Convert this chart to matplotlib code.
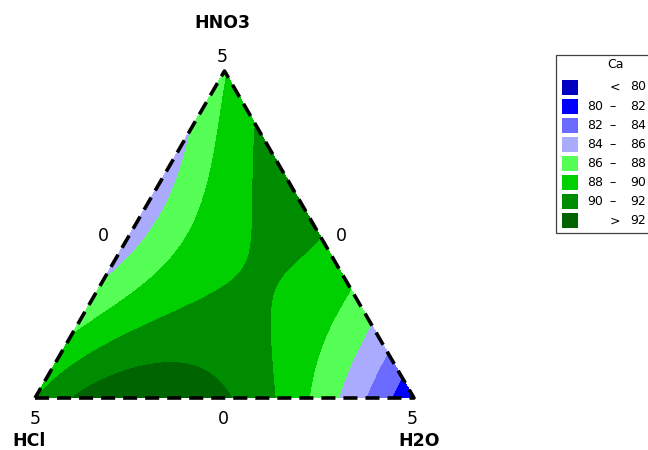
import numpy as np
import matplotlib
matplotlib.use("Agg")
import matplotlib.pyplot as plt
import matplotlib.tri as mtri
from matplotlib.patches import Rectangle

# Ca response readings over the HNO3 / HCl / H2O mixture space
# (HNO3 fraction, H2O fraction; HCl makes up the rest)
hno3 = [1.0, 0.0, 0.0,
        0.0, 0.0, 0.0, 0.0, 0.0, 0.0, 0.0, 0.0,
        0.813, 0.462, 0.324, 0.223, 0.147, 0.064,
        0.03, 0.175, 0.352, 0.82,
        0.055, 0.116, 0.168, 0.217, 0.260, 0.321, 0.401, 0.514, 0.606, 0.697,
        0.239, 0.300, 0.361, 0.432, 0.524, 0.626, 0.779, 0.881,
        0.401, 0.474, 0.575, 0.677,
        0.055, 0.086, 0.101, 0.095, 0.064,
        0.422, 0.370, 0.269, 0.116,
        0.239, 0.116, 0.138, 0.086]
h2o = [0.0, 0.0, 1.0,
       0.02, 0.092, 0.512, 0.641, 0.734, 0.805, 0.868, 0.923,
       0.187, 0.538, 0.676, 0.777, 0.853, 0.936,
       0.0, 0.0, 0.0, 0.0,
       0.012, 0.042, 0.106, 0.176, 0.234, 0.293, 0.341, 0.316, 0.272, 0.227,
       0.034, 0.090, 0.125, 0.143, 0.152, 0.138, 0.094, 0.056,
       0.024, 0.040, 0.042, 0.035,
       0.163, 0.234, 0.306, 0.388, 0.456,
       0.480, 0.480, 0.507, 0.580,
       0.659, 0.686, 0.770, 0.846]
ca = [88.0, 89.9, 80.8,
      90, 92, 92, 90, 88, 86, 84, 82,
      90, 90, 88, 86, 84, 82,
      90, 88, 86, 86,
      90, 90, 90, 90, 90, 90, 90, 90, 90, 90,
      88, 88, 88, 88, 88, 88, 88, 88,
      86, 86, 86, 86,
      92, 92, 92, 92, 92,
      90, 90, 90, 90,
      88, 88, 86, 84]

band_edges = [80, 82, 84, 86, 88, 90, 92]
band_colors = ["#0000c0", "#0000ff", "#6b6bff", "#aaaaff",
               "#55ff55", "#00d000", "#008c00", "#006400"]
component_names = ["HNO3", "HCl", "H2O"]


def model_terms(a, b, c):
    return np.column_stack([a, b, c, a * b, a * c, b * c, a * b * c,
                            a * b * (a - b), a * c * (a - c), b * c * (b - c),
                            a * a * b * c, a * b * b * c, a * b * c * c,
                            a * b * (a - b) ** 2])


A = np.asarray(hno3, float)
C = np.asarray(h2o, float)
B = 1.0 - A - C
coef, *_ = np.linalg.lstsq(model_terms(A, B, C), np.asarray(ca, float), rcond=None)

# barycentric grid over the simplex
n = 160
ii, jj = np.meshgrid(np.arange(n + 1), np.arange(n + 1))
keep = ii + jj <= n
ga = (ii[keep] / n).astype(float)
gc = (jj[keep] / n).astype(float)
gb = 1.0 - ga - gc
zz = model_terms(ga, gb, gc) @ coef
h = np.sqrt(3) / 2
gx = gc + ga / 2
gy = ga * h
tri = mtri.Triangulation(gx, gy)

W, H = 648, 450
fig = plt.figure(figsize=(W / 100, H / 100), dpi=100)
ax = fig.add_axes([35 / W, (H - 398) / H, 379 / W, 327 / H])
levels = [-1e9] + band_edges + [1e9]
ax.tricontourf(tri, np.clip(zz, 50, 120), levels=levels, colors=band_colors,
               antialiased=False)
ax.plot([0, 1, 0.5, 0], [0, 0, h, 0], color="black", lw=2.6,
        linestyle=(0, (3.9, 2.2)), solid_capstyle="butt", clip_on=False)
ax.set_xlim(0, 1)
ax.set_ylim(0, h)
ax.axis("off")


def ftext(x, y, s, **kw):
    fig.text(x / W, 1 - y / H, s, ha=kw.pop("ha", "center"),
             va=kw.pop("va", "center"), **kw)


ftext(222, 23, component_names[0], fontsize=12.5, fontweight="bold")
ftext(222, 57, "5", fontsize=12.5)
ftext(103, 236, "0", fontsize=12.5)
ftext(341, 236, "0", fontsize=12.5)
ftext(35, 419, "5", fontsize=12.5)
ftext(223, 419, "0", fontsize=12.5)
ftext(412, 419, "5", fontsize=12.5)
ftext(29, 441, component_names[1], fontsize=12.5, fontweight="bold")
ftext(419, 441, component_names[2], fontsize=12.5, fontweight="bold")

# legend box
fig.patches.append(Rectangle((556 / W, 1 - 233 / H), 120 / W, 178 / H,
                             transform=fig.transFigure, facecolor="white",
                             edgecolor="#404040", lw=0.9))
ftext(615, 65, "Ca", fontsize=9)
row_y = 87
for k, col in enumerate(band_colors):
    y = row_y + k * 19.1
    fig.patches.append(Rectangle((562 / W, 1 - (y + 7.5) / H), 16 / W, 15 / H,
                                 transform=fig.transFigure, facecolor=col,
                                 edgecolor="none"))
    if k == 0:
        ftext(615, y, "<", fontsize=9)
        ftext(646, y, str(band_edges[0]), fontsize=9, ha="right")
    elif k == len(band_colors) - 1:
        ftext(615, y, ">", fontsize=9)
        ftext(646, y, str(band_edges[-1]), fontsize=9, ha="right")
    else:
        ftext(603, y, str(band_edges[k - 1]), fontsize=9, ha="right")
        ftext(613, y, "\u2013", fontsize=9)
        ftext(646, y, str(band_edges[k]), fontsize=9, ha="right")

fig.savefig("out.png", dpi=100)
